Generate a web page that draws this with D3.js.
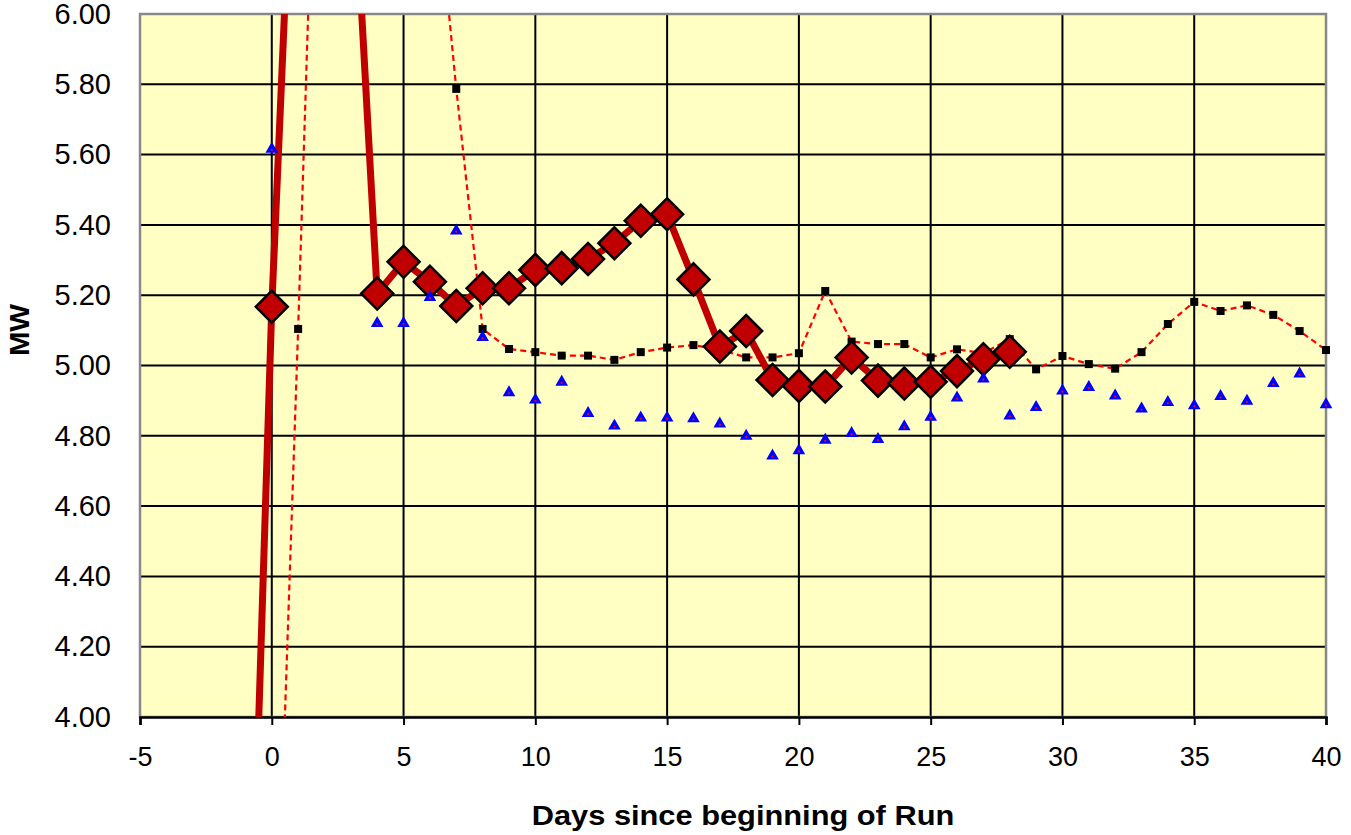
<!DOCTYPE html>
<html>
<head>
<meta charset="utf-8">
<script src="https://cdn.jsdelivr.net/npm/d3@7"></script>
<style>
  html, body { margin: 0; padding: 0; background: #ffffff; }
  svg { display: block; }
  text { font-family: "Liberation Sans", Arial, sans-serif; fill: #000; }
</style>
</head>
<body>
<svg id="chart" width="1351" height="835"></svg>
<script>
// ---- data ----
const mainDays = [-1,0,1,2,3,4,5,6,7,8,9,10,11,12,13,14,15,16,17,18,19,20,21,22,23,24,25,26,27,28];
const mainMW   = [2.80,5.167,6.90,7.20,6.56,5.205,5.295,5.238,5.169,5.220,5.220,5.272,5.277,5.303,5.348,5.412,5.430,5.245,5.054,5.098,4.959,4.942,4.940,5.023,4.957,4.949,4.954,4.984,5.018,5.039];

const dashDays = [0,1,2,3,4,5,6,7,8,9,10,11,12,13,14,15,16,17,18,19,20,21,22,23,24,25,26,27,28,29,30,31,32,33,34,35,36,37,38,39,40];
const dashMW   = [2.91,5.104,7.46,7.60,7.40,7.00,6.56,5.787,5.104,5.047,5.038,5.028,5.028,5.016,5.038,5.051,5.058,5.045,5.023,5.023,5.035,5.212,5.068,5.061,5.061,5.023,5.046,5.035,5.075,4.989,5.027,5.004,4.991,5.038,5.118,5.181,5.155,5.171,5.144,5.098,5.044];

const triDays = [0,4,5,6,7,8,9,10,11,12,13,14,15,16,17,18,19,20,21,22,23,24,25,26,27,28,29,30,31,32,33,34,35,36,37,38,39,40];
const triMW   = [5.616,5.120,5.120,5.194,5.383,5.080,4.923,4.902,4.953,4.864,4.828,4.851,4.851,4.849,4.834,4.799,4.743,4.758,4.788,4.807,4.790,4.826,4.853,4.908,4.962,4.857,4.881,4.928,4.938,4.914,4.877,4.895,4.886,4.912,4.899,4.949,4.976,4.889];

const xTicks = [-5,0,5,10,15,20,25,30,35,40];
const yTicks = [4.0,4.2,4.4,4.6,4.8,5.0,5.2,5.4,5.6,5.8,6.0];

const xTitle = "Days since beginning of Run";
const yTitle = "MW";

// ---- layout ----
const L = 140, R = 1326, T = 14, B = 717;
const svg = d3.select("#chart");
const x = d3.scaleLinear().domain([-5, 40]).range([L, R]);
const y = d3.scaleLinear().domain([4, 6]).range([B, T]);

const main = mainDays.map((d, i) => ({ d, v: mainMW[i] }));
const dash = dashDays.map((d, i) => ({ d, v: dashMW[i] }));
const tri  = triDays.map((d, i) => ({ d, v: triMW[i] }));
const inY = p => p.v >= 4 && p.v <= 6;

svg.append("defs").append("clipPath").attr("id", "plotClip")
  .append("rect").attr("x", L).attr("y", T).attr("width", R - L).attr("height", B - T);

// plot background
svg.append("rect").attr("x", L).attr("y", T).attr("width", R - L).attr("height", B - T)
  .attr("fill", "#FFFFC4");

// gridlines
const grid = svg.append("g");
grid.selectAll("line.h").data(yTicks.slice(1, -1)).join("line")
  .attr("x1", L).attr("x2", R).attr("y1", d => y(d)).attr("y2", d => y(d))
  .attr("stroke", "#000").attr("stroke-width", 2);
grid.selectAll("line.v").data(xTicks.slice(1, -1)).join("line")
  .attr("y1", T).attr("y2", B).attr("x1", d => x(d)).attr("x2", d => x(d))
  .attr("stroke", "#000").attr("stroke-width", 2);

// plot border
svg.append("rect").attr("x", L).attr("y", T).attr("width", R - L).attr("height", B - T)
  .attr("fill", "none").attr("stroke", "#888").attr("stroke-width", 2.5);

// x axis
const xAxis = svg.append("g").attr("transform", `translate(0,${B})`)
  .call(d3.axisBottom(x).tickValues(xTicks).tickSize(8).tickPadding(22).tickFormat(d => String(d)));
xAxis.select(".domain").attr("stroke", "#000").attr("stroke-width", 2.5);
xAxis.selectAll(".tick line").attr("stroke", "#000").attr("stroke-width", 2);
xAxis.selectAll(".tick text").attr("font-size", 27).attr("font-family", "Liberation Sans, Arial, sans-serif").attr("fill", "#000");

// y axis (labels only)
const yAxis = svg.append("g").attr("transform", `translate(${L},0)`)
  .call(d3.axisLeft(y).tickValues(yTicks).tickSize(0).tickPadding(29).tickFormat(d3.format(".2f")));
yAxis.select(".domain").remove();
yAxis.selectAll(".tick text").attr("font-size", 29).attr("font-family", "Liberation Sans, Arial, sans-serif").attr("fill", "#000");

// titles
svg.append("text").attr("transform", "translate(743,825) scale(1.1,1)").attr("text-anchor", "middle")
  .attr("font-size", 28).attr("font-weight", "bold").text(xTitle);
svg.append("text").attr("transform", "translate(29,330) rotate(-90) scale(1.05,1)").attr("text-anchor", "middle")
  .attr("font-size", 28).attr("font-weight", "bold").text(yTitle);

// series
const line = d3.line().x(p => x(p.d)).y(p => y(p.v));
const clipped = svg.append("g").attr("clip-path", "url(#plotClip)");

// dashed series
clipped.append("path").datum(dash).attr("d", line)
  .attr("fill", "none").attr("stroke", "#FF0000").attr("stroke-width", 2.2)
  .attr("stroke-dasharray", "6,4");
svg.append("g").selectAll("rect").data(dash.filter(inY)).join("rect")
  .attr("x", p => x(p.d) - 4).attr("y", p => y(p.v) - 4)
  .attr("width", 8).attr("height", 8).attr("fill", "#000");

// main thick series
clipped.append("path").datum(main).attr("d", line)
  .attr("fill", "none").attr("stroke", "#C00000").attr("stroke-width", 7)
  .attr("stroke-linejoin", "round");
const dia = d3.symbol().type(d3.symbolSquare).size(16 * 16 * 2);
svg.append("g").selectAll("path").data(main.filter(inY)).join("path")
  .attr("transform", p => `translate(${x(p.d)},${y(p.v)}) rotate(45)`)
  .attr("d", dia)
  .attr("fill", "#C00000").attr("stroke", "#000").attr("stroke-width", 2.5);

// triangles
const triSym = d3.symbol().type(d3.symbolTriangle).size(44);
const tg = svg.append("g").selectAll("g").data(tri.filter(inY)).join("g")
  .attr("transform", p => `translate(${x(p.d)},${y(p.v)})`);
tg.append("path").attr("d", triSym).attr("fill", "#0000FF").attr("stroke", "#0000FF").attr("stroke-width", 1.5);
tg.append("circle").attr("r", 1.1).attr("cy", 0.8).attr("fill", "#FF0000");
</script>
</body>
</html>
